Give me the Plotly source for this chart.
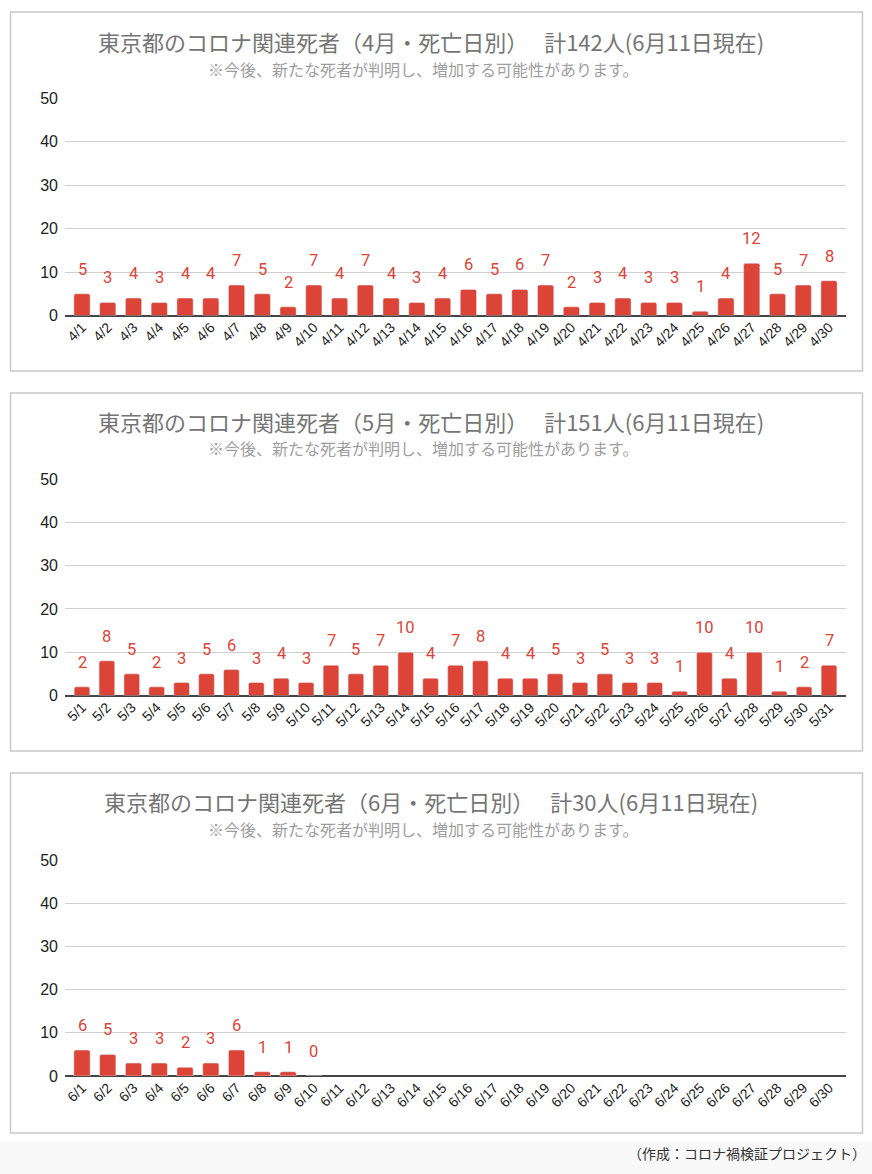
import plotly.graph_objects as go
from plotly.subplots import make_subplots

W = 872
H = 1174

apr_labels = [f"4/{d}" for d in range(1, 31)]
apr_values = [5, 3, 4, 3, 4, 4, 7, 5, 2, 7, 4, 7, 4, 3, 4, 6, 5, 6, 7, 2,
              3, 4, 3, 3, 1, 4, 12, 5, 7, 8]
may_labels = [f"5/{d}" for d in range(1, 32)]
may_values = [2, 8, 5, 2, 3, 5, 6, 3, 4, 3, 7, 5, 7, 10, 4, 7, 8, 4, 4, 5,
              3, 5, 3, 3, 1, 10, 4, 10, 1, 2, 7]
jun_labels = [f"6/{d}" for d in range(1, 31)]
jun_values = [6, 5, 3, 3, 2, 3, 6, 1, 1, 0] + [None] * 20

titles = [
    "東京都のコロナ関連死者（4月・死亡日別）　\u00a0計142人(6月11日現在)",
    "東京都のコロナ関連死者（5月・死亡日別）　\u00a0計151人(6月11日現在)",
    "東京都のコロナ関連死者（6月・死亡日別）　\u00a0計30人(6月11日現在)",
]
subtitle = "※今後、新たな死者が判明し、増加する可能性があります。"
footer = "（作成：コロナ禍検証プロジェクト）"
y_ticks = [0, 10, 20, 30, 40, 50]

RED = "#db4437"
panels = [
    # (labels, values, box top, box bottom, plot top(50), plot bottom(0), title y, subtitle y)
    (apr_labels, apr_values, 12, 371, 98, 315.5, 41, 69),
    (may_labels, may_values, 393, 751, 479, 695.5, 421, 448),
    (jun_labels, jun_values, 773, 1133, 860, 1076, 801, 829),
]

def py(v):
    return 1 - v / H

fig = make_subplots(rows=3, cols=1)
shapes = []
annotations = []
x0px, x1px = 65, 846
first_c, last_c = 82, 829

for i, (labels, values, bt, bb, pt, pb, ty, sy) in enumerate(panels, start=1):
    n = len(labels)
    step = (last_c - first_c) / (n - 1)
    lo = (x0px - first_c) / step
    hi = (n - 1) + (x1px - last_c) / step
    fig.add_trace(go.Bar(x=labels, y=values, marker=dict(color=RED, cornerradius=2),
                         width=0.63, hoverinfo="x+y", showlegend=False), row=i, col=1)
    xa = "xaxis" if i == 1 else f"xaxis{i}"
    ya = "yaxis" if i == 1 else f"yaxis{i}"
    fig.layout[xa].update(domain=[x0px / W, x1px / W], range=[lo, hi], type="category",
                          tickangle=-45, tickfont=dict(family="Arial", size=14, color="#222"),
                          showgrid=False, ticks="", showline=False, fixedrange=True,
                          automargin=False)
    fig.layout[ya].update(domain=[py(pb), py(pt)], range=[0, 50], tickvals=y_ticks,
                          tickfont=dict(family="Arial", size=16, color="#222"),
                          showgrid=True, gridcolor="#d0d0d0", gridwidth=1,
                          zeroline=True, zerolinecolor="#444", zerolinewidth=1.5,
                          ticks="", ticklabelstandoff=6, fixedrange=True,
                          automargin=False)
    xref = "x" if i == 1 else f"x{i}"
    yref = "y" if i == 1 else f"y{i}"
    for lab, v in zip(labels, values):
        if v is None:
            continue
        annotations.append(dict(x=lab, y=v, xref=xref, yref=yref, text=str(v),
                                showarrow=False, yanchor="bottom", yshift=13,
                                font=dict(family="Roboto", size=16.5, color=RED)))
    shapes.append(dict(type="rect", xref="paper", yref="paper",
                       x0=10.5 / W, x1=862.5 / W, y0=py(bb), y1=py(bt),
                       line=dict(color="#c8c8c8", width=1.5), fillcolor="rgba(0,0,0,0)", layer="below"))
    annotations.append(dict(x=431 / W, y=py(ty), xref="paper", yref="paper", text=titles[i - 1],
                            showarrow=False, xanchor="center", yanchor="middle",
                            font=dict(family="Noto Sans CJK JP", size=22, color="#757575")))
    annotations.append(dict(x=423 / W, y=py(sy), xref="paper", yref="paper", text=subtitle,
                            showarrow=False, xanchor="center", yanchor="middle",
                            font=dict(family="Noto Sans CJK JP", size=16, color="#9e9e9e")))

shapes.append(dict(type="rect", xref="paper", yref="paper", x0=0, x1=1, y0=0, y1=py(1142),
                   line=dict(width=0), fillcolor="#f8f8f8", layer="below"))
annotations.append(dict(x=868 / W, y=py(1153), xref="paper", yref="paper", text=footer,
                        showarrow=False, xanchor="right", yanchor="middle",
                        font=dict(family="Noto Sans CJK JP", size=14, color="#333")))

fig.update_layout(width=W, height=H, margin=dict(l=0, r=0, t=0, b=0, pad=0, autoexpand=False),
                  paper_bgcolor="white", plot_bgcolor="rgba(0,0,0,0)",
                  shapes=shapes, annotations=annotations, bargap=0.37)
fig.write_html("out.html", include_plotlyjs=True, config={"displayModeBar": False})
